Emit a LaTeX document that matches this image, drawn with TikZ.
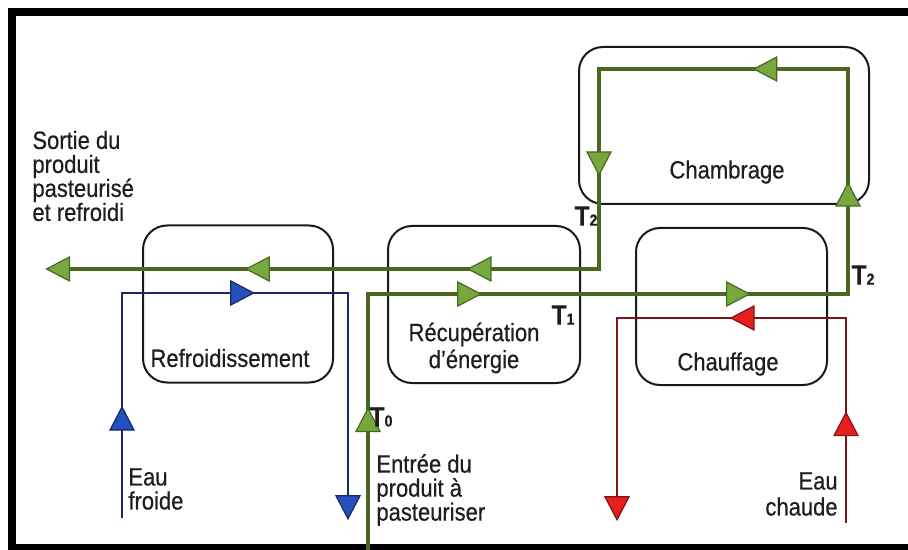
\documentclass[tikz,border=0pt]{standalone}
\usepackage{fontspec}
\setmainfont{Liberation Sans}[FakeStretch=0.88, FakeBold=0.5]
\usetikzlibrary{decorations.markings}
\definecolor{vertL}{RGB}{74,104,34}
\definecolor{vertF}{RGB}{118,168,62}
\definecolor{bleuL}{RGB}{25,40,105}
\definecolor{bleuF}{RGB}{35,80,190}
\definecolor{rougeL}{RGB}{125,20,25}
\definecolor{rougeF}{RGB}{230,30,30}
\definecolor{texte}{RGB}{30,30,30}
\newcommand{\tlab}[1]{\fontsize{14}{14}\selectfont\bfseries T{\fontsize{8}{8}\selectfont #1}}
\tikzset{
	boite/.style={draw=black!90, line width=1pt, rounded corners=12pt, minimum height=78.5pt, inner sep=0pt},
	flux/.style={draw=#1L, line join=miter},
	fl/.style 2 args={postaction={decorate, decoration={markings, mark=at position #1 with {\filldraw[draw=#2L, fill=#2F, line width=0.6pt, line join=miter] (6pt,0) -- (-5.5pt,6pt) -- (-5.5pt,-6pt) -- cycle;}}}},
}
\begin{document}
\begin{tikzpicture}[x=0.5pt, y=-0.5pt, font=\fontsize{12.5}{12}\selectfont, line join=round, text=texte]
	\useasboundingbox (0,0) rectangle (908,550);
	% cadre
	\draw[line width=4pt, line join=miter] (12,12) rectangle (960,548);
	% appareils
	\node[boite, minimum width=95pt] (refr) at (238,304) {};
	\node[boite, minimum width=96pt] (recup) at (484,304.5) {};
	\node[boite, minimum width=95.5pt] (chauf) at (731.5,306.5) {};
	\node[boite, minimum width=145pt] (chamb) at (724,125.5) {};
	\node (trefr) at (230,358) {Refroidissement};
	\node[align=center, font=\fontsize{12.5}{13.5}\selectfont] (trecup) at (474,348) {Récupération\\d’énergie};
	\node (tchauf) at (728,364) {Chauffage};
	\node (tchamb) at (727,172) {Chambrage};
	% produit
	\coordinate (g0) at (368,552);
	\coordinate (g1) at (368,294);
	\coordinate (g2) at (848,294);
	\coordinate (g3) at (848,69);
	\coordinate (g4) at (599,69);
	\coordinate (g5) at (599,269);
	\coordinate (g6) at (58,269);
	\draw[flux=vert, line width=2.2pt] (g0) -- (g1) -- (g2) -- (g3) -- (g4) -- (g5) -- (g6);
	\path[fl={0.51}{vert}] (g0) -- (g1);
	\path[fl={0.21}{vert}, fl={0.77}{vert}] (g1) -- (g2);
	\path[fl={0.44}{vert}] (g2) -- (g3);
	\path[fl={0.33}{vert}] (g3) -- (g4);
	\path[fl={0.47}{vert}] (g4) -- (g5);
	\path[fl={0.22}{vert}, fl={0.63}{vert}, fl={0.999}{vert}] (g5) -- (g6);
	% eau froide
	\coordinate (b0) at (122,518);
	\coordinate (b1) at (122,293);
	\coordinate (b2) at (348,293);
	\coordinate (b3) at (348,507);
	\draw[flux=bleu, line width=1.2pt] (b0) -- (b1) -- (b2) -- (b3);
	\path[fl={0.44}{bleu}] (b0) -- (b1);
	\path[fl={0.53}{bleu}] (b1) -- (b2);
	\path[fl={0.999}{bleu}] (b2) -- (b3);
	% eau chaude
	\coordinate (r0) at (846,523);
	\coordinate (r1) at (846,318);
	\coordinate (r2) at (617,318);
	\coordinate (r3) at (617,508);
	\draw[flux=rouge, line width=1.4pt] (r0) -- (r1) -- (r2) -- (r3);
	\path[fl={0.48}{rouge}] (r0) -- (r1);
	\path[fl={0.45}{rouge}] (r1) -- (r2);
	\path[fl={0.999}{rouge}] (r2) -- (r3);
	% textes
	\node[anchor=west, align=left, inner sep=0pt] (sortie) at (32,176) {Sortie du\\produit\\pasteurisé\\et refroidi};
	\node[anchor=west, align=left, inner sep=0pt] (froide) at (128,489) {Eau\\froide};
	\node[anchor=west, align=left, inner sep=0pt] (entree) at (376,490) {Entrée du\\produit à\\pasteuriser};
	\node[anchor=east, align=right, inner sep=0pt, font=\fontsize{12.5}{13}\selectfont] (chaude) at (838,494) {Eau\\chaude};
	\node (t2a) at (586,216) {\tlab{2}};
	\node (t2b) at (863,275) {\tlab{2}};
	\node (t1) at (563,315) {\tlab{1}};
	\node (t0) at (381,417) {\tlab{0}};
\end{tikzpicture}
\end{document}
